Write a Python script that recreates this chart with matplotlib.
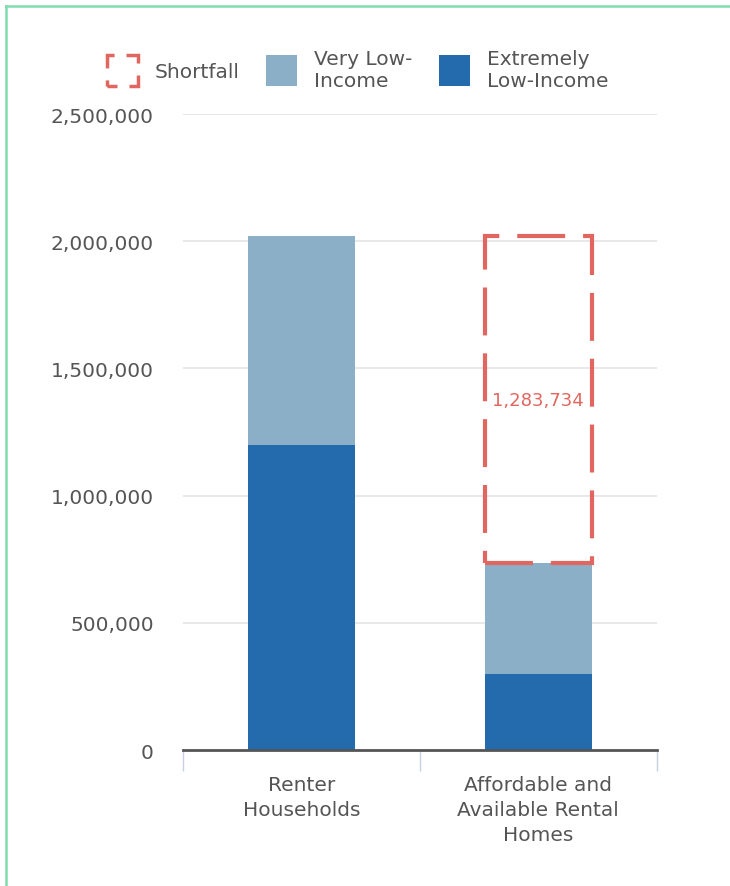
import matplotlib.pyplot as plt
import numpy as np
from matplotlib.patches import Patch
from matplotlib.lines import Line2D

# bar data
categories = ['Renter\nHouseholds', 'Affordable and\nAvailable Rental\nHomes']
extremely_low = [1200000, 300000]
very_low = [818734, 435000]
shortfall = 1283734

dark_blue = '#236bac'
light_blue = '#8aafc6'
red = '#e0665f'
text_col = '#555555'

plt.rcParams['font.family'] = ['DejaVu Sans']

fig = plt.figure(figsize=(7.3, 8.87), dpi=100)
ax = fig.add_axes([0.2507, 0.1533, 0.649, 0.717])

x = np.arange(len(categories))
width = 0.45
totals = np.array(extremely_low) + np.array(very_low)

ax.bar(x, extremely_low, width, color=dark_blue, zorder=3)
ax.bar(x, very_low, width, bottom=extremely_low, color=light_blue, zorder=3)

# shortfall box on top of the affordable homes bar
ax.bar(x[1], shortfall, width, bottom=totals[1], fill=False, edgecolor=red,
       linewidth=3, linestyle=(0, (11.5, 4.3)), zorder=4)
ax.text(x[1], totals[1] + shortfall / 2, f'{shortfall:,}', color=red,
        ha='center', va='center', fontsize=13, zorder=5)

ax.set_ylim(0, 2500000)
ax.set_xlim(-0.5, 1.5)
ax.set_yticks(np.arange(0, 2500001, 500000))
ax.set_yticklabels([f'{v:,}' for v in np.arange(0, 2500001, 500000)])
ax.set_xticks(x)
ax.set_xticklabels(categories, linespacing=1.4)
ax.set_xticks([-0.5, 0.5, 1.5], minor=True)

ax.tick_params(axis='y', length=0, pad=21, labelsize=14.5, labelcolor=text_col)
ax.tick_params(axis='x', which='major', length=0, pad=18, labelsize=14.5, labelcolor=text_col)
ax.tick_params(axis='x', which='minor', length=15, width=1, color='#c5d0e0')

ax.grid(axis='y', color='#e4e4e4', linewidth=1.2, zorder=0)
for s in ['top', 'right', 'left']:
    ax.spines[s].set_visible(False)
ax.spines['bottom'].set_color('#555555')
ax.spines['bottom'].set_linewidth(2)
ax.spines['bottom'].set_zorder(5)

handles = [
    Patch(facecolor='none', edgecolor=red, linewidth=2.5, linestyle=(2.88, (5.76, 3.45))),
    Patch(facecolor=light_blue, edgecolor='none'),
    Patch(facecolor=dark_blue, edgecolor='none'),
]
labels = ['Shortfall', 'Very Low-\nIncome', 'Extremely\nLow-Income']
fig.legend(handles, labels, loc='center', bbox_to_anchor=(0.49, 0.921), ncol=3,
           frameon=False, fontsize=14.5, labelcolor=text_col, handlelength=1.55,
           handleheight=2.0, handletextpad=0.85, columnspacing=1.3)

# light green frame on the left and top edges
fig.add_artist(Line2D([0.0082, 0.0082], [0, 0.992], color='#7fdcac', linewidth=1.8,
                      transform=fig.transFigure))
fig.add_artist(Line2D([0.0082, 1], [0.992, 0.992], color='#7fdcac', linewidth=1.8,
                      transform=fig.transFigure))

plt.savefig('out.png', dpi=100)
